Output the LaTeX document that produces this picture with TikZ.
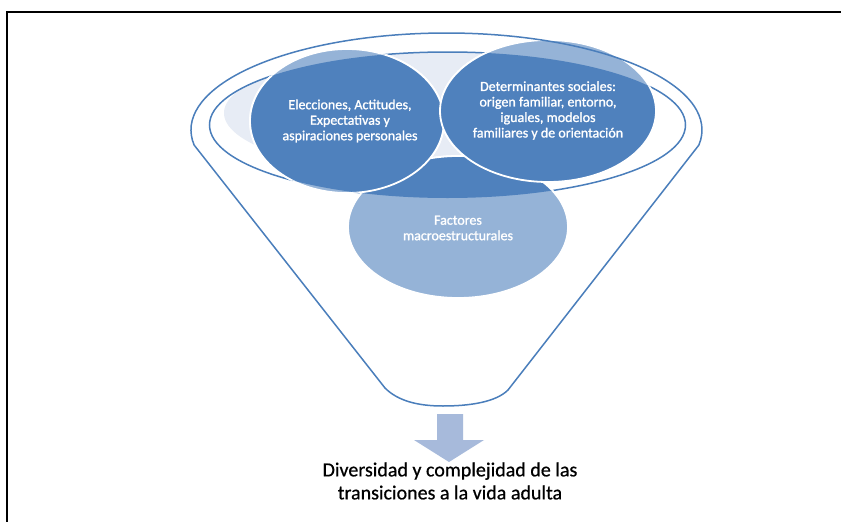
\documentclass[tikz,border=0pt]{standalone}
\usepackage{fontspec}
\setmainfont{Carlito}
\newfontfamily\bubfont[FakeBold=1.2]{Carlito}
\newfontfamily\capfont[FakeBold=0.6]{Carlito}
\definecolor{dkb}{HTML}{4F81BD}
\definecolor{ltb}{HTML}{95B3D7}
\definecolor{rimc}{HTML}{4A7EBB}
\definecolor{pale}{HTML}{E7ECF5}
\definecolor{arrc}{HTML}{A7BADB}
\begin{document}
\begin{tikzpicture}[x=1pt,y=-1pt,
  darkbub/.style={fill=dkb, draw=white, line width=1.8pt},
  lightbub/.style={fill=ltb, draw=white, line width=1.8pt},
  rim/.style={draw=rimc, line width=1.5pt},
  btxt/.style={text=white, align=center, font=\bubfont\fontsize{14}{15.5}\selectfont, inner sep=0pt},
]
\useasboundingbox (0,0) rectangle (841,522);
\fill[white] (0,0) rectangle (841,522);
\draw[line width=2pt] (7,522) -- (7,12) -- (842,12);

\coordinate (oc) at (446.5,130);
\coordinate (ic) at (447.5,125);
\coordinate (lc) at (347,121);
\coordinate (rc) at (548,111);
\coordinate (fc) at (458,227);
\coordinate (pc) at (440,113);

% pale back region
\begin{scope}
  \clip (ic) ellipse [x radius=238pt, y radius=73pt];
  \fill[pale] (pc) ellipse [x radius=216pt, y radius=62pt];
\end{scope}
% inner rim
\draw[rim] (ic) ellipse [x radius=238pt, y radius=73pt];

% bubbles, light (outside rim)
\path[lightbub] (fc) ellipse [x radius=110pt, y radius=71pt];
\path[lightbub] (lc) ellipse [x radius=97pt, y radius=72pt];
\path[lightbub] (rc) ellipse [x radius=108pt, y radius=71pt];
% bubbles, dark (inside rim)
\begin{scope}
  \clip (ic) ellipse [x radius=238pt, y radius=73pt];
  \path[darkbub] (fc) ellipse [x radius=110pt, y radius=71pt];
  \path[darkbub] (lc) ellipse [x radius=97pt, y radius=72pt];
  \path[darkbub] (rc) ellipse [x radius=108pt, y radius=71pt];
\end{scope}

% funnel outline
\coordinate (fl) at ([shift={(188.9:255.5pt and 97pt)}]oc);
\coordinate (bl) at (385,388);
\coordinate (bb) at (443,406);
\coordinate (br) at (508,390);
\draw[rim, line join=round] (fl) arc[start angle=188.9, end angle=-8.9, x radius=255.5pt, y radius=97pt]
  -- (br) .. controls (496,402) and (470,406) .. (bb)
  .. controls (418,406) and (398,401) .. (bl) -- cycle;

% texts
\node[btxt] (t1) at (350,121) {Elecciones, Actitudes,\\Expectativas y\\aspiraciones personales};
\node[btxt] (t2) at (548,110.5) {Determinantes sociales:\\origen familiar, entorno,\\iguales, modelos\\familiares y de orientación};
\node[btxt] (t3) at (458,228) {Factores\\macroestructurales};

% arrow
\fill[arrc] (437,414) -- (463,414) -- (463,440) -- (484,440) -- (449,462) -- (414,440) -- (437,440) -- cycle;

\node[font=\capfont\fontsize{20}{23}\selectfont, align=center, inner sep=0pt] (t4) at (450,481) {Diversidad y complejidad de las\\transiciones a la vida adulta};
\end{tikzpicture}
\end{document}
